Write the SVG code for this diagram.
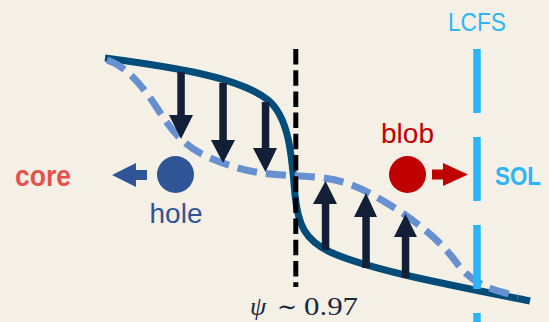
<svg xmlns="http://www.w3.org/2000/svg" width="549" height="322" viewBox="0 0 549 322">
<defs>
<style>
.bg{fill:#F4F0E6}
.solid{fill:none;stroke:#014C78;stroke-width:7;stroke-linecap:butt}
.dash{fill:none;stroke:#6690D0;stroke-width:7;stroke-dasharray:20 9}
.psi{fill:none;stroke:#000;stroke-width:5;stroke-dasharray:15.5 5.7}
.lcfs{fill:none;stroke:#2CB5FB;stroke-width:7.5;stroke-dasharray:64 24}
.arr{fill:#121F36}
.lbl{font-family:"Liberation Sans",Arial,sans-serif}
</style>
</defs>
<rect class="bg" x="0" y="0" width="549" height="322"/>
<g id="connectors">
<path class="solid" d="M105,58 C180,68 240,78 268,100 C290,118 292,160 295,195 C298,225 305,240 330,252 C370,270 450,285 530,301"/>
<path class="dash" d="M107,60 C125,66 140,82 157,108 S185,148 215,160 S260,174 300,176 S355,184 385,202 S440,240 456,262 S490,290 518,296"/>
<line class="psi" x1="295.8" y1="49" x2="295.8" y2="287"/>
<line class="lcfs" x1="477" y1="49" x2="477" y2="322"/>
</g>
<g id="down-arrows">
<rect class="arr" x="177.3" y="72" width="7.5" height="44"/>
<polygon class="arr" points="169,115 193,115 181,139"/>
<rect class="arr" x="219.3" y="83" width="7.5" height="58"/>
<polygon class="arr" points="211,140 235,140 223,163"/>
<rect class="arr" x="261.8" y="102" width="7.5" height="47"/>
<polygon class="arr" points="253,148 277,148 265.5,172"/>
</g>
<g id="up-arrows">
<rect class="arr" x="321.8" y="203" width="7.5" height="47"/>
<polygon class="arr" points="313,204 337,204 325.5,181"/>
<rect class="arr" x="362.3" y="216" width="7.5" height="52"/>
<polygon class="arr" points="354,217 377,217 366,193"/>
<rect class="arr" x="401.8" y="236" width="7.5" height="42"/>
<polygon class="arr" points="394,237 417,237 405.5,214"/>
</g>
<g id="hole">
<circle cx="175.5" cy="174.5" r="18.5" fill="#2F5597"/>
<rect x="135" y="170" width="12" height="10" fill="#2F5597"/>
<polygon points="112,175 136,163 136,187" fill="#2F5597"/>
<text class="lbl" x="176" y="223" font-size="28" fill="#2F5597" text-anchor="middle">hole</text>
</g>
<g id="blob">
<circle cx="407.5" cy="174.5" r="18.5" fill="#C00000"/>
<rect x="432" y="169.5" width="12" height="10" fill="#C00000"/>
<polygon points="468,174.5 443,163 443,186" fill="#C00000"/>
<text class="lbl" x="407.5" y="143" font-size="28" fill="#C00000" text-anchor="middle">blob</text>
</g>
<g id="core">
<text class="lbl" x="15" y="186" font-size="29" font-weight="bold" fill="#E8504E" textLength="56" lengthAdjust="spacingAndGlyphs">core</text>
</g>
<g id="sol">
<text class="lbl" x="495" y="185" font-size="26" font-weight="bold" fill="#2CB5FB" textLength="46" lengthAdjust="spacingAndGlyphs">SOL</text>
</g>
<g id="lcfs">
<text class="lbl" x="448" y="31" font-size="26" fill="#2CB5FB" textLength="58" lengthAdjust="spacingAndGlyphs">LCFS</text>
</g>
<g id="psi-label">
<text x="250" y="315" font-family="'Liberation Serif','DejaVu Serif',serif" font-size="26" fill="#1B2640"><tspan font-style="italic">ψ</tspan><tspan x="277" font-family="'DejaVu Serif',serif" font-size="24">∼</tspan><tspan x="304" textLength="54" lengthAdjust="spacingAndGlyphs">0.97</tspan></text>
</g>
</svg>
